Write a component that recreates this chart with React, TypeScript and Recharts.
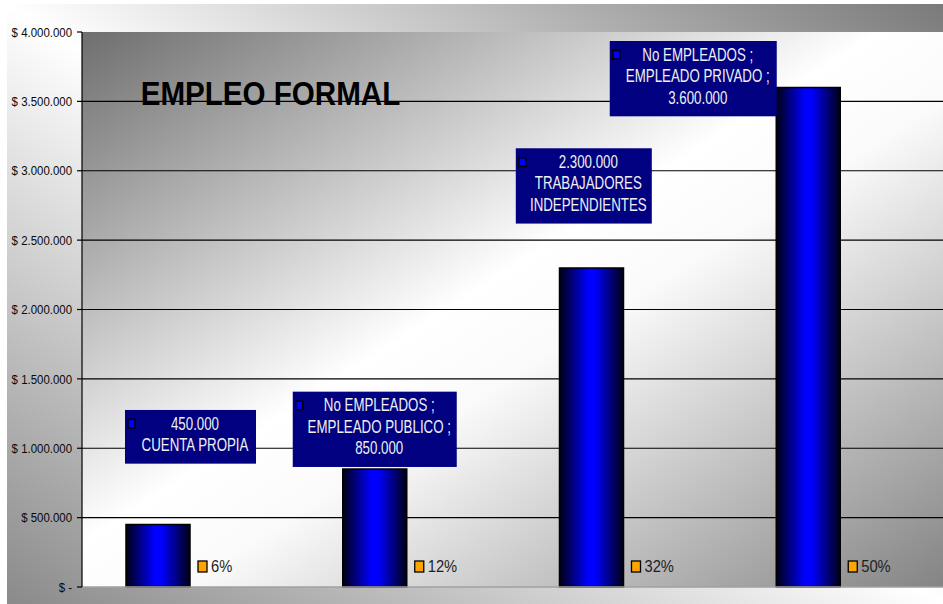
import { BarChart, Bar, XAxis, YAxis, CartesianGrid, LabelList, ReferenceLine } from 'recharts';

const categories = [
  'CUENTA PROPIA',
  'No EMPLEADOS ; EMPLEADO PUBLICO',
  'TRABAJADORES INDEPENDIENTES',
  'No EMPLEADOS ; EMPLEADO PRIVADO',
];
const amounts = [450000, 850000, 2300000, 3600000];
const shares = [6, 12, 32, 50];
const labelLines = [
  ['{v}', 'CUENTA PROPIA'],
  ['No EMPLEADOS ;', 'EMPLEADO PUBLICO ;', '{v}'],
  ['{v}', 'TRABAJADORES', 'INDEPENDIENTES'],
  ['No EMPLEADOS ;', 'EMPLEADO PRIVADO ;', '{v}'],
];
const yTicks = [0, 500000, 1000000, 1500000, 2000000, 2500000, 3000000, 3500000, 4000000];
const title = 'EMPLEO FORMAL';

const data = categories.map((name, i) => ({
  name,
  amount: amounts[i],
  share: shares[i] / 100,
}));

// label boxes were dragged by hand in the original, so each one gets its own nudge
const boxLayout = [
  { w: 131, dx: 32.5, dy: -114.6 },
  { w: 164, dx: 0, dy: -77.4 },
  { w: 136, dx: -7.7, dy: -119.6 },
  { w: 167, dx: -115, dy: -46.5 },
];

const FONT = "'Liberation Sans', Arial, sans-serif";

const dotted = (n: number) => String(n).replace(/\B(?=(\d{3})+(?!\d))/g, '.');

function MoneyTick({ x, y, payload }: any) {
  const v = Number(payload?.value ?? 0);
  const txt = v === 0 ? '$ -' : '$ ' + dotted(v);
  return (
    <text
      transform={`translate(${x},${y}) scale(0.88,1)`}
      textAnchor="end"
      dy="0.36em"
      fontSize={13}
      fontFamily={FONT}
      fill="#0a0a0a"
    >
      {txt}
    </text>
  );
}

function BoxLabel(props: any) {
  const { x, y, width, index } = props;
  const lay = boxLayout[index];
  const lines = labelLines[index].map((l) => l.replace('{v}', dotted(amounts[index])));
  const cx = x + width / 2 + lay.dx;
  const h = 10.5 + lines.length * 21.6;
  const left = cx - lay.w / 2;
  const top = y + lay.dy;
  return (
    <g>
      <rect x={left} y={top} width={lay.w} height={h} fill="#000080" />
      <rect x={left + 3} y={top + 9.5} width={7} height={8.5} fill="#0000ff" stroke="#000" strokeWidth={1.5} />
      {lines.map((t, i) => (
        <text
          key={i}
          transform={`translate(${cx + 4.5},${top + 13.3 + i * 21.6}) scale(0.76,1)`}
          textAnchor="middle"
          dy="0.36em"
          fontSize={17.5}
          fontFamily={FONT}
          fill="#f0f0f0"
        >
          {t}
        </text>
      ))}
    </g>
  );
}

function ShareLabel(props: any) {
  const { x, y, index } = props;
  const left = x + 8;
  return (
    <g>
      <rect x={left} y={y - 26} width={9} height={11} fill="#ffa500" stroke="#000" strokeWidth={1.3} />
      <text
        transform={`translate(${left + 13},${y - 15}) scale(0.92,1)`}
        fontSize={16}
        fontFamily={FONT}
        fill="#1e1e1e"
      >
        {shares[index] + '%'}
      </text>
    </g>
  );
}

export default function App() {
  return (
    <div style={{ position: 'absolute', left: 0, top: 0, width: 943, height: 604, overflow: 'hidden', background: '#fff' }}>
      <div
        style={{
          position: 'absolute',
          left: 7,
          top: 4,
          width: 936,
          height: 600,
          background: 'linear-gradient(to top right, #8a8a8a 0%, #ffffff 50%, #7a7a7a 100%)',
        }}
      />
      <div style={{ position: 'absolute', left: 0, top: 0 }}>
        <BarChart
          width={949}
          height={604}
          data={data}
          margin={{ top: 32, right: 0, bottom: 17, left: 0 }}
          barGap={0}
        >
          <defs>
            <linearGradient id="plotBg" x1="0" y1="0" x2="1" y2="1">
              <stop offset="0%" stopColor="#6e6e6e" />
              <stop offset="46%" stopColor="#ffffff" />
              <stop offset="56%" stopColor="#fafafa" />
              <stop offset="100%" stopColor="#838383" />
            </linearGradient>
            <linearGradient id="barBlue" x1="0" y1="0" x2="1" y2="0">
              <stop offset="0%" stopColor="#000014" />
              <stop offset="45%" stopColor="#0000ff" />
              <stop offset="55%" stopColor="#0000ff" />
              <stop offset="100%" stopColor="#000014" />
            </linearGradient>
          </defs>
          <CartesianGrid
            vertical={false}
            horizontalValues={[500000, 1000000, 1500000, 2000000, 2500000, 3000000, 3500000]}
            stroke="#000"
            strokeWidth={1.2}
            fill="url(#plotBg)"
            fillOpacity={1}
          />
          <XAxis dataKey="name" hide />
          <YAxis
            width={82}
            domain={[0, 4000000]}
            ticks={yTicks}
            interval={0}
            axisLine={{ stroke: '#000', strokeWidth: 1.2 }}
            tickLine={{ stroke: '#000', strokeWidth: 1.2 }}
            tickSize={5}
            tickMargin={5}
            tick={<MoneyTick />}
          />
          <ReferenceLine y={0} stroke="#a0a0a0" strokeWidth={1.5} />
          <text
            transform="translate(140.7,105) scale(0.87,1)"
            fontSize={34}
            fontWeight="bold"
            fontFamily={FONT}
            fill="#000"
          >
            {title}
          </text>
          <Bar dataKey="amount" barSize={64} fill="url(#barBlue)" stroke="#000" strokeWidth={1.5} isAnimationActive={false}>
            <LabelList dataKey="amount" content={<BoxLabel />} />
          </Bar>
          <Bar dataKey="share" barSize={64} fill="#ffa500" isAnimationActive={false}>
            <LabelList dataKey="share" content={<ShareLabel />} />
          </Bar>
        </BarChart>
      </div>
    </div>
  );
}
